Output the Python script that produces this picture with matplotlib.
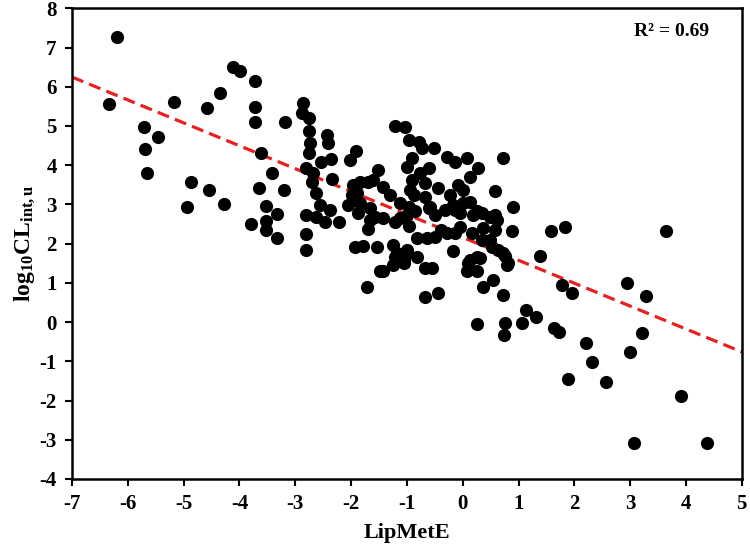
import numpy as np
import matplotlib
matplotlib.use("Agg")
import matplotlib.pyplot as plt

# values
lipmete = [
    -6.34, -6.19, -5.71, -5.69, -5.65, -5.46, -5.18, -4.94, -4.86, -4.59,
    -4.54, -4.34, -4.28, -4.11, -3.99, -3.79, -3.72, -3.72, -3.72, -3.65,
    -3.62, -3.53, -3.52, -3.52, -3.42, -3.33, -3.32, -3.20, -3.18,
    -2.87, -2.88, -2.75, -2.76, -2.73, -2.75, -2.80, -2.68, -2.70, -2.62,
    -2.56, -2.80, -2.62, -2.81, -2.81,
    -2.44, -2.42, -2.53, -2.36, -2.35, -2.38, -2.47, -2.22, -2.05, -1.99,
    -1.92, -2.02, -1.96, -1.90, -1.84,
    -1.84, -1.66, -1.69, -1.51, -1.60, -1.87, -1.69, -1.57, -1.66, -1.93,
    -1.78, -1.54, -1.71, -1.48,
    -1.42, -1.30, -1.12, -0.97, -1.42, -1.21, -1.12, -1.00, -0.97, -1.24,
    -1.21, -1.00, -1.06, -1.42, -1.24, -1.06, -1.00, -1.18,
    -1.21, -1.03, -0.97, -0.79, -0.73, -0.52, -0.29, -0.14, 0.07, 0.28,
    0.13, 0.73, 0.58, 0.91, -0.91, -1.00, -0.60, -0.76, -0.91, -0.67,
    -0.94, -0.88, -0.67, -0.44, -0.23, -0.08, 0.01, 0.13, 0.01, -0.61,
    -0.14, 0.25, 0.58, -0.17, -0.32, -0.58, -0.85, 0.49, 0.34, 0.61,
    -0.82, -0.64, -0.49, -0.38, -0.14, -0.05, 0.19, 0.34, 0.58, 0.88,
    0.52, 0.73, 0.79, -0.17, 0.25, 0.10, 0.07, -0.82, -0.67, -0.55,
    -0.67, -0.44, 0.37, 0.55, 0.73, 0.16, 0.37, -0.05, -0.28, 0.49,
    0.64, -0.49, 0.13, 0.25,
    1.58, 1.84, 3.65, 0.76, 0.82, 1.39, 0.31, 1.78, 1.96, 2.94,
    3.28, 1.14, 1.32, 1.06, 0.76, 0.74, 0.25, 1.63, 1.72, 2.21,
    3.22, 2.31, 3.00, 1.88, 2.57, 3.91, 3.07, 4.37,
]
log_clint = [
    5.56, 7.28, 4.97, 4.42, 3.81, 4.71, 5.61, 2.94, 3.57, 5.45,
    3.36, 5.85, 3.00, 6.50, 6.41, 2.51, 6.15, 5.48, 5.10, 3.41,
    4.30, 2.58, 2.35, 2.96, 3.81, 2.15, 2.75, 3.38, 5.10,
    5.58, 5.33, 5.20, 4.86, 4.56, 4.31, 3.92, 3.80, 3.58, 3.29,
    2.99, 2.73, 2.69, 2.25, 1.84,
    4.77, 4.56, 4.07, 4.16, 3.64, 2.86, 2.56, 2.56, 2.99, 3.24,
    4.36, 4.12, 3.50, 3.29, 3.58,
    3.03, 2.90, 3.58, 3.88, 3.63, 2.78, 2.37, 2.69, 2.60, 1.91,
    1.95, 1.91, 0.90, 1.29,
    3.45, 3.24, 3.03, 2.94, 2.65, 2.56, 2.65, 2.73, 2.44, 1.97,
    1.67, 1.75, 1.50, 1.29, 1.46, 1.58, 1.84, 1.75,
    5.00, 4.98, 4.65, 4.60, 4.43, 4.43, 4.22, 4.09, 4.18, 3.92,
    3.71, 4.18, 3.34, 2.93, 4.18, 3.96, 3.92, 3.80, 3.63, 3.54,
    3.37, 3.24, 3.20, 3.41, 3.24, 3.50, 3.37, 3.07, 3.03, 2.90,
    2.86, 2.82, 2.73, 2.99, 2.86, 2.94, 2.82, 2.69, 2.78, 2.60,
    2.14, 2.14, 2.73, 2.35, 2.27, 2.78, 2.73, 2.09, 2.35, 2.31,
    1.92, 1.75, 1.45, 1.80, 1.67, 1.50, 1.29, 1.67, 1.37, 1.37,
    0.65, 0.74, 0.90, 1.07, 0.69, 2.27, 2.39, 2.43, 2.27, 2.09,
    1.84, 2.18, 1.58, 1.29,
    2.33, 2.43, 2.31, 1.69, 1.51, 1.69, 1.63, 0.95, 0.74, 1.00,
    0.67, 0.31, 0.14, -0.02, -0.02, -0.33, -0.05, -0.16, -0.25, -0.53,
    -0.27, -1.02, -0.76, -1.46, -1.52, -1.89, -3.08, -3.08,
]

fit_slope = -0.584
fit_intercept = 2.16
r_squared = 0.69

x_ticks = list(range(-7, 6))
y_ticks = list(range(-4, 9))

plt.rcParams['font.family'] = ['Liberation Serif', 'DejaVu Serif']
plt.rcParams['font.weight'] = 'bold'
plt.rcParams['axes.unicode_minus'] = False
plt.rcParams['mathtext.fontset'] = 'custom'
plt.rcParams['mathtext.rm'] = 'Liberation Serif:bold'
plt.rcParams['mathtext.it'] = 'Liberation Serif:bold'
plt.rcParams['mathtext.default'] = 'rm'

fig = plt.figure(figsize=(7.5, 5.55), dpi=100)
ax = fig.add_axes([0.096, 0.137, 0.893, 0.848])

ax.scatter(lipmete, log_clint, s=90, color='black', zorder=3, linewidths=0)

xx = np.array([-7, 5])
ax.plot(xx, fit_slope * xx + fit_intercept, color='#e8201f', lw=2.3,
        linestyle=(0, (3.8, 2.0)), zorder=2)

ax.set_xlim(-7, 5)
ax.set_ylim(-4, 8)
ax.set_xticks(x_ticks)
ax.set_yticks(y_ticks)
ax.tick_params(direction='out', length=5, width=1.5, labelsize=15,
               top=False, right=False, pad=6)
for lbl in ax.get_xticklabels() + ax.get_yticklabels():
    lbl.set_fontweight('bold')
for sp in ax.spines.values():
    sp.set_linewidth(1.8)

ax.set_xlabel("LipMetE", fontsize=16, fontweight='bold', labelpad=6)
ax.set_ylabel(r"log$_{10}$CL$_{int,u}$", fontsize=17, fontweight='bold', labelpad=2)

ax.text(3.75, 7.4, f"R\u00b2 = {r_squared:.2f}", fontsize=14, fontweight='bold',
        ha='center', va='center')

fig.savefig("out.png", dpi=100)
